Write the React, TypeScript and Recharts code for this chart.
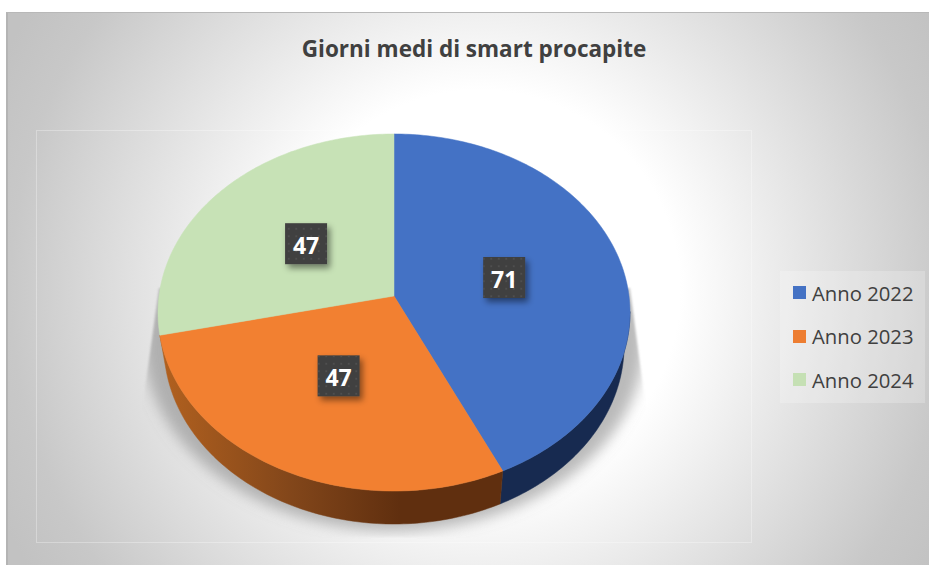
import React from 'react';
import { PieChart, Pie, Cell, Legend } from 'recharts';

const categories = ['Anno 2022', 'Anno 2023', 'Anno 2024'];
const values = [71, 47, 47];

const FACE_COLORS = ['#4472c5', '#f28031', '#c7e2b6'];
const LEGEND_COLORS = ['#4472c4', '#ed7d31', '#c5e0b4'];
const WALL_COLORS = ['#172a50', 'url(#orangeWall)', 'none'];

const data = categories.map((name, i) => ({ name, value: values[i] }));

const FONT = '"Open Sans", Lato, sans-serif';
const PIE_CX = 394;
const PIE_CY = 296;
const RADIUS = 235;
const START = 90;
const END = -270;

// the reference is a 3D pie seen in perspective, so the hub sits above the ellipse centre
const TILT = 0.7532;
const PERSPECTIVE = 0.0924;
const DEPTH = 33;
const BOTTOM_SCALE = 0.975;

const project = (cx: number, cy: number, r: number, angle: number) => {
  const a = (angle * Math.PI) / 180;
  const u = Math.cos(a);
  const v = -Math.sin(a);
  const w = 1 - PERSPECTIVE * v;
  return { x: cx + (r * u) / w, y: cy + (r * TILT * v) / w };
};

const arcPoints = (cx: number, cy: number, r: number, from: number, to: number) => {
  const steps = Math.max(2, Math.ceil(Math.abs(to - from)));
  const pts = [];
  for (let i = 0; i <= steps; i++) {
    pts.push(project(cx, cy, r, from + ((to - from) * i) / steps));
  }
  return pts;
};

const toPath = (pts: { x: number; y: number }[]) =>
  pts.map((p, i) => `${i === 0 ? 'M' : 'L'}${p.x.toFixed(2)},${p.y.toFixed(2)}`).join(' ') + ' Z';

const FaceSector = (props: any) => {
  const { cx, cy, outerRadius, startAngle, endAngle, fill } = props;
  const pts = [{ x: cx, y: cy }, ...arcPoints(cx, cy, outerRadius, startAngle, endAngle)];
  return <path d={toPath(pts)} fill={fill} stroke={fill} strokeWidth={0.5} />;
};

// side wall of the disc, only the arc that faces the viewer
const WallSector = (props: any) => {
  const { cx, cy, outerRadius, startAngle, endAngle, fill } = props;
  const from = Math.min(startAngle, -5);
  const to = Math.max(endAngle, -175);
  const shadow = startAngle === START ? (
    <g filter="url(#shadowEdge)">
      <g clipPath="url(#shadowClip)">
        <path
          d={toPath(arcPoints(cx, cy + 28, outerRadius * 1.06, 0, 360))}
          fill="#8c8c8c"
          fillOpacity={0.6}
          filter="url(#pieShadow)"
        />
      </g>
    </g>
  ) : null;
  if (from <= to || fill === 'none') return shadow;
  const top = arcPoints(cx, cy, outerRadius, from, to);
  const bottom = top
    .map((p) => ({ x: cx + (p.x - cx) * BOTTOM_SCALE, y: p.y + DEPTH }))
    .reverse();
  return (
    <g>
      {shadow}
      <path d={toPath([...top, ...bottom])} fill={fill} stroke={fill} strokeWidth={0.5} />
    </g>
  );
};

// small hand corrections, the label spots in the reference are not quite on one radius
const LABEL_NUDGE_X = [0, 0, -3];
const LABEL_NUDGE_Y = [0, -5, -1];

const DataLabel = (props: any) => {
  const { cx, cy, midAngle, outerRadius, value, index } = props;
  const p = project(cx, cy, outerRadius * 0.49, midAngle);
  const x = p.x + LABEL_NUDGE_X[index];
  const y = p.y + LABEL_NUDGE_Y[index];
  return (
    <g>
      <rect x={x - 21} y={y - 20.5} width={42} height={41} fill="#3f3f3f" filter="url(#labelShadow)" />
      <rect x={x - 21} y={y - 20.5} width={42} height={41} fill="url(#labelDots)" />
      <text
        x={x}
        y={y + 1}
        textAnchor="middle"
        dominantBaseline="central"
        fill="#ffffff"
        style={{ fontFamily: FONT, fontSize: 23, fontWeight: 700 }}
      >
        {value}
      </text>
    </g>
  );
};

const LegendPanel = () => (
  <div
    style={{
      width: 145,
      height: 132,
      background: 'rgba(255,255,255,0.22)',
      fontFamily: FONT,
      fontSize: 20.3,
      color: '#404040',
      boxSizing: 'border-box',
      paddingLeft: 13,
    }}
  >
    {categories.map((name, i) => (
      <div key={name} style={{ height: 43.5, display: 'flex', alignItems: 'center' }}>
        <span style={{ width: 13, height: 13, background: LEGEND_COLORS[i], marginRight: 6 }} />
        <span>{name}</span>
      </div>
    ))}
  </div>
);

export default function App() {
  return (
    <div style={{ position: 'absolute', left: 0, top: 0, width: 929, height: 565, background: '#ffffff', overflow: 'hidden' }}>
      <div
        style={{
          position: 'absolute',
          left: 6,
          top: 12,
          width: 923,
          height: 553,
          boxSizing: 'border-box',
          borderTop: '1px solid #b8b8b8',
          borderLeft: '2px solid #b4b4b4',
          background:
            'radial-gradient(circle at 472px 277px, #ffffff 0px, #ffffff 200px, #c8c8c8 470px, #c2c2c2 530px)',
        }}
      />
      <div
        style={{
          position: 'absolute',
          left: 36,
          top: 130,
          width: 716,
          height: 413,
          boxSizing: 'border-box',
          border: '1px solid rgba(255,255,255,0.3)',
        }}
      />
      <div
        style={{
          position: 'absolute',
          left: 0,
          width: 948,
          top: 33,
          textAlign: 'center',
          fontFamily: FONT,
          fontSize: 22.5,
          fontWeight: 700,
          color: '#404040',
        }}
      >
        Giorni medi di smart procapite
      </div>
      <div style={{ position: 'absolute', left: 0, top: 0 }}>
        <PieChart width={929} height={565} margin={{ top: 0, right: 0, bottom: 0, left: 0 }}>
          <defs>
            <linearGradient id="orangeWall" gradientUnits="userSpaceOnUse" x1={160} y1={0} x2={400} y2={0}>
              <stop offset="0%" stopColor="#b2611f" />
              <stop offset="55%" stopColor="#82461a" />
              <stop offset="100%" stopColor="#602f0f" />
            </linearGradient>
            <filter id="pieShadow" x="-10%" y="-10%" width="120%" height="120%">
              <feGaussianBlur stdDeviation="7" />
            </filter>
            <filter id="shadowEdge" x="-5%" y="-5%" width="110%" height="110%">
              <feGaussianBlur stdDeviation="1" />
            </filter>
            <clipPath id="shadowClip">
              <polygon points="159,288 630,288 646,410 646,537 142,537 142,410" />
            </clipPath>
            <filter id="labelShadow" x="-30%" y="-30%" width="170%" height="170%">
              <feDropShadow dx="3" dy="4" stdDeviation="3" floodColor="#000000" floodOpacity="0.45" />
            </filter>
            <pattern id="labelDots" width="7.5" height="7.5" patternUnits="userSpaceOnUse">
              <rect x={3} y={3} width={1.5} height={1.5} fill="#565656" />
            </pattern>
          </defs>
          <Pie
            data={data}
            dataKey="value"
            nameKey="name"
            cx={PIE_CX}
            cy={PIE_CY}
            outerRadius={RADIUS}
            startAngle={START}
            endAngle={END}
            stroke="none"
            legendType="none"
            shape={WallSector}
            isAnimationActive={false}
          >
            {data.map((entry, i) => (
              <Cell key={entry.name} fill={WALL_COLORS[i]} />
            ))}
          </Pie>
          <Pie
            data={data}
            dataKey="value"
            nameKey="name"
            cx={PIE_CX}
            cy={PIE_CY}
            outerRadius={RADIUS}
            startAngle={START}
            endAngle={END}
            stroke="none"
            labelLine={false}
            label={DataLabel}
            shape={FaceSector}
            isAnimationActive={false}
          >
            {data.map((entry, i) => (
              <Cell key={entry.name} fill={FACE_COLORS[i]} />
            ))}
          </Pie>
          <Legend
            content={<LegendPanel />}
            layout="vertical"
            wrapperStyle={{ position: 'absolute', left: 780, top: 271, width: 145, height: 132 }}
          />
        </PieChart>
      </div>
    </div>
  );
}
